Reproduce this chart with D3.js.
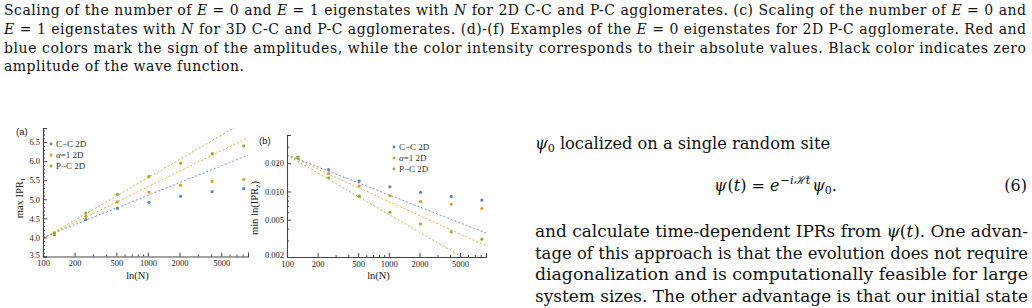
<!DOCTYPE html>
<html>
<head>
<meta charset="utf-8">
<script src="https://cdn.jsdelivr.net/npm/d3@7"></script>
<style>
  body { margin: 0; background: #fff; }
  svg { display: block; }
  .cap { font-family: "DejaVu Serif", serif; font-size: 14px; fill: #111; }
  .body { font-family: "DejaVu Serif", serif; font-size: 16px; fill: #111; }
  .tick text { font-family: "Liberation Serif", serif; font-size: 8.5px; fill: #222; }
  .lab { font-family: "Liberation Serif", serif; font-size: 10.5px; fill: #222; }
  .panel { font-family: "Liberation Sans", sans-serif; font-size: 9.5px; fill: #222; }
  .leg { font-family: "Liberation Serif", serif; font-size: 9px; fill: #333; }
</style>
</head>
<body>
<script>
// data
var sizes = [128, 256, 512, 1024, 2048, 4096, 8192];
var seriesNames = ["C\u2212C 2D", "\u03b1=1 2D", "P\u2212C 2D"];
var colors = ["#5e81b5", "#e19c24", "#8fb032"];

// panel (a): max IPR_1
var ipr1CC    = [4.07, 4.47, 4.76, 4.92, 5.08, 5.20, 5.28];
var ipr1Alpha = [4.10, 4.55, 4.93, 5.19, 5.37, 5.47, 5.52];
var ipr1PC    = [4.12, 4.64, 5.13, 5.60, 5.95, 6.20, 6.40];
// fits: a + b*log10(N/100)
var fitA1 = [4.00, 3.98, 3.97];
var fitB1 = [1.104, 1.349, 1.594];

// panel (b): min ln(IPR_2)
var ipr2CC    = [0.0233, 0.0171, 0.0129, 0.0112, 0.0098, 0.0088, 0.0081];
var ipr2Alpha = [0.0228, 0.0155, 0.0114, 0.0090, 0.0078, 0.0073, 0.0066];
var ipr2PC    = [0.0226, 0.0140, 0.0089, 0.0060, 0.0045, 0.0037, 0.0031];
// fits: c*(N/100)^(-p)
var fitC2 = [0.0246, 0.0245, 0.0244];
var fitP2 = [0.427, 0.496, 0.632];

var xTicks = [100, 200, 500, 1000, 2000, 5000];
var xMinor = [300, 400, 600, 700, 800, 900, 3000, 4000, 6000, 7000, 8000, 9000];
var yTicksA = [3.5, 4.0, 4.5, 5.0, 5.5, 6.0, 6.5];
var yTicksB = [0.002, 0.005, 0.010, 0.020];
var yMinorB = [0.003, 0.004, 0.006, 0.007, 0.008, 0.009, 0.03, 0.04];

var w = 1032, h = 308;
var svg = d3.select("body").append("svg").attr("width", w).attr("height", h);

// ---- caption text ----
function it(s) { return {t: s, i: true}; }
var capLines = [
  [["Scaling of the number of "], it("E"), [" = 0 and "], it("E"), [" = 1 eigenstates with "], it("N"), [" for 2D C-C and P-C agglomerates. (c) Scaling of the number of "], it("E"), [" = 0 and"]],
  [it("E"), [" = 1 eigenstates with "], it("N"), [" for 3D C-C and P-C agglomerates. (d)-(f) Examples of the "], it("E"), [" = 0 eigenstates for 2D P-C agglomerate. Red and"]],
  [["blue colors mark the sign of the amplitudes, while the color intensity corresponds to their absolute values. Black color indicates zero"]],
  [["amplitude of the wave function."]]
];
var capLen = [1022, 1022, 1022, 240];
capLines.forEach(function(line, i) {
  var t = svg.append("text").attr("class", "cap")
    .attr("x", 4).attr("y", 15 + i * 18.8)
    .attr("textLength", capLen[i]).attr("lengthAdjust", "spacing");
  line.forEach(function(p) {
    var s = t.append("tspan").text(p.t !== undefined ? p.t : p[0]);
    if (p.i) s.attr("font-style", "italic");
  });
});

// ---- body text on the right ----
var bx = 535;
var b1 = svg.append("text").attr("class", "body").attr("x", bx).attr("y", 149)
  .attr("textLength", 295).attr("lengthAdjust", "spacingAndGlyphs");
b1.append("tspan").attr("font-style", "italic").text("\u03c8");
b1.append("tspan").attr("font-size", "11px").attr("dy", 3).text("0");
b1.append("tspan").attr("dy", -3).text(" localized on a single random site");

// equation (6)
var eq = svg.append("text").attr("class", "body").attr("x", 714).attr("y", 191);
eq.append("tspan").attr("font-style", "italic").text("\u03c8");
eq.append("tspan").attr("dx", 1).text("(");
eq.append("tspan").attr("font-style", "italic").text("t");
eq.append("tspan").text(")");
eq.append("tspan").attr("dx", 5).text("=");
eq.append("tspan").attr("dx", 5).attr("font-style", "italic").text("e");
eq.append("tspan").attr("font-size", "11.5px").attr("dy", -7).attr("dx", 1).attr("font-style", "italic").text("\u2212i\u210bt");
eq.append("tspan").attr("dy", 7).attr("dx", 2).attr("font-style", "italic").text("\u03c8");
eq.append("tspan").attr("font-size", "11px").attr("dy", 3).text("0");
eq.append("tspan").attr("dy", -3).text(".");
svg.append("text").attr("class", "body").attr("x", 1027).attr("y", 191)
  .attr("text-anchor", "end").text("(6)");

var bodyLines = [
  [["and calculate time-dependent IPRs from "], it("\u03c8"), ["("], it("t"), ["). One advan-"]],
  [["tage of this approach is that the evolution does not require"]],
  [["diagonalization and is computationally feasible for large"]],
  [["system sizes. The other advantage is that our initial state"]]
];
bodyLines.forEach(function(line, i) {
  var t = svg.append("text").attr("class", "body")
    .attr("x", bx).attr("y", 237 + i * 21.5)
    .attr("textLength", 1028 - bx).attr("lengthAdjust", "spacingAndGlyphs");
  line.forEach(function(p) {
    var s = t.append("tspan").text(p.t !== undefined ? p.t : p[0]);
    if (p.i) s.attr("font-style", "italic");
  });
});

// ---- chart panels ----
function panel(opt) {
  var g = svg.append("g");
  var x = d3.scaleLog().domain([100, 9000]).range([opt.x0, opt.x1]);
  var y = opt.y;
  var clipId = "clip" + opt.name;
  svg.append("clipPath").attr("id", clipId).append("rect")
    .attr("x", opt.x0).attr("y", opt.yTop)
    .attr("width", opt.x1 - opt.x0).attr("height", opt.yBot - opt.yTop);

  // fit lines
  var line = d3.line().x(function(d) { return x(d[0]); }).y(function(d) { return y(d[1]); });
  opt.fits.forEach(function(f, i) {
    g.append("path")
      .attr("d", line([[100, f(100)], [9000, f(9000)]]))
      .attr("clip-path", "url(#" + clipId + ")")
      .attr("fill", "none").attr("stroke", colors[i]).attr("stroke-width", 1)
      .attr("stroke-dasharray", "2,2").attr("opacity", 0.85);
  });

  // points
  opt.series.forEach(function(vals, i) {
    g.selectAll(null).data(vals).enter().append("circle")
      .attr("cx", function(d, j) { return x(sizes[j]); })
      .attr("cy", function(d) { return y(d); })
      .attr("r", 1.6).attr("fill", colors[i]);
  });

  // axes
  var xAxis = d3.axisBottom(x).tickValues(xTicks).tickFormat(d3.format("d"))
    .tickSize(-4).tickPadding(4);
  var gx = g.append("g").attr("class", "x axis")
    .attr("transform", "translate(0," + opt.yBot + ")").call(xAxis);
  gx.selectAll(".tick text").attr("dy", "0.65em");
  g.append("g").attr("class", "x axis minor")
    .attr("transform", "translate(0," + opt.yBot + ")")
    .call(d3.axisBottom(x).tickValues(xMinor).tickFormat("").tickSize(-2))
    .select(".domain").remove();

  var gy = g.append("g").attr("class", "y axis")
    .attr("transform", "translate(" + opt.x0 + ",0)")
    .call(d3.axisLeft(y).tickValues(opt.yTicks).tickFormat(opt.yFmt).tickSize(-4).tickPadding(3));
  // lowest label sits just above the x labels
  gy.selectAll(".tick text").filter(function(d, i) { return i === 0; }).attr("dy", "0.1em");
  g.append("g").attr("transform", "translate(" + opt.x0 + ",0)")
    .call(d3.axisLeft(y).tickValues(opt.yMinor).tickFormat("").tickSize(-2))
    .select(".domain").remove();

  g.selectAll(".domain").attr("stroke", "#444").attr("stroke-width", 1.1);
  g.selectAll(".tick line").attr("stroke", "#444");

  // labels
  g.append("text").attr("class", "lab").attr("text-anchor", "middle")
    .attr("x", (opt.x0 + opt.x1) / 2 - 8).attr("y", 279).text("ln(N)");
  var yl = g.append("text").attr("class", "lab").attr("text-anchor", "middle")
    .attr("transform", "translate(" + opt.ylx + "," + opt.yly + ") rotate(-90)");
  opt.ylab(yl);
  g.append("text").attr("class", "panel").attr("x", opt.px).attr("y", opt.py).text(opt.label);

  // legend
  seriesNames.forEach(function(nm, i) {
    var ly = opt.legY + i * 11;
    g.append("circle").attr("cx", opt.legX).attr("cy", ly).attr("r", 1.4).attr("fill", colors[i]);
    var t = g.append("text").attr("class", "leg").attr("x", opt.legX + 5).attr("y", ly + 3);
    if (i === 1) {
      t.append("tspan").attr("font-style", "italic").text("\u03b1");
      t.append("tspan").text("=1 2D");
    } else {
      t.text(nm);
    }
  });
}

panel({
  name: "a", label: "(a)", x0: 43, x1: 248, yTop: 128, yBot: 256.5,
  y: d3.scaleLinear().domain([3.5, 6.87]).range([256.5, 128]),
  series: [ipr1CC, ipr1Alpha, ipr1PC],
  fits: [0, 1, 2].map(function(i) { return function(n) { return fitA1[i] + fitB1[i] * Math.log10(n / 100); }; }),
  yTicks: yTicksA, yFmt: d3.format(".1f"),
  yMinor: d3.range(36, 69).map(function(v) { return v / 10; }).filter(function(v) { return Math.abs(v * 2 - Math.round(v * 2)) > 0.01; }),
  ylx: 23, yly: 198,
  ylab: function(t) {
    t.append("tspan").text("max IPR");
    t.append("tspan").attr("font-size", "7px").attr("dy", 2).text("1");
  },
  px: 16, py: 135, legX: 51, legY: 144
});

panel({
  name: "b", label: "(b)", x0: 287, x1: 486, yTop: 135, yBot: 257,
  y: d3.scaleLog().domain([0.002, 0.04]).range([257, 135]),
  series: [ipr2CC, ipr2Alpha, ipr2PC],
  fits: [0, 1, 2].map(function(i) { return function(n) { return fitC2[i] * Math.pow(n / 100, -fitP2[i]); }; }),
  yTicks: yTicksB, yFmt: d3.format(".3f"), yMinor: yMinorB,
  ylx: 258, yly: 208,
  ylab: function(t) {
    t.append("tspan").text("min ln(IPR");
    t.append("tspan").attr("font-size", "7px").attr("dy", 2).text("2");
    t.append("tspan").attr("dy", -2).text(")");
  },
  px: 259, py: 144, legX: 394, legY: 147
});
</script>
</body>
</html>
